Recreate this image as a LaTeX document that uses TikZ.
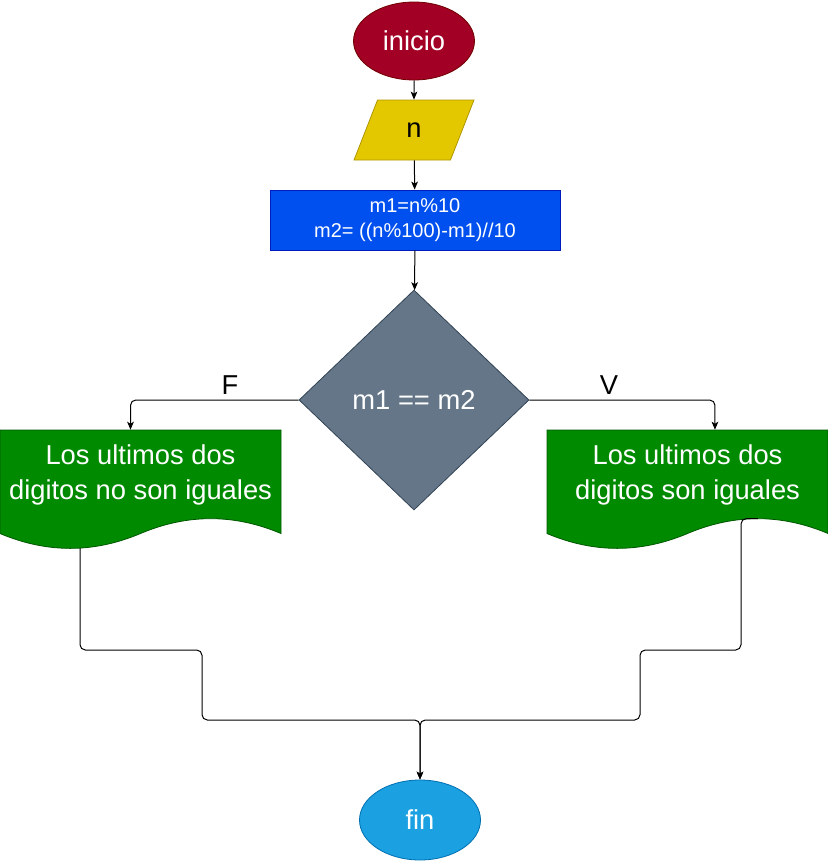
\documentclass[tikz,border=0pt]{standalone}
\usepackage{fontspec}
\setmainfont{Liberation Sans}
\usetikzlibrary{shapes.geometric}
\usetikzlibrary{arrows.meta}
\definecolor{inifill}{HTML}{A20025}
\definecolor{iniline}{HTML}{6F0000}
\definecolor{infill}{HTML}{E3C800}
\definecolor{inline}{HTML}{B09500}
\definecolor{procfill}{HTML}{0050EF}
\definecolor{procline}{HTML}{001DBC}
\definecolor{decfill}{HTML}{647687}
\definecolor{decline}{HTML}{314354}
\definecolor{docfill}{HTML}{008A00}
\definecolor{docline}{HTML}{005700}
\definecolor{finfill}{HTML}{1BA1E2}
\definecolor{finline}{HTML}{006EAF}
% wavy document: left x, top y (px)
\newcommand{\wavedoc}[2]{\filldraw[fill=docfill,draw=docline,line width=0.6pt] (#1,#2) -- ({#1+281},#2) -- ({#1+281},{#2+103.5}) .. controls ({#1+234.17},{#2+83.7}) and ({#1+187.33},{#2+83.7}) .. ({#1+140.5},{#2+103.5}) .. controls ({#1+93.67},{#2+123.3}) and ({#1+46.83},{#2+123.3}) .. (#1,{#2+103.5}) -- cycle;}

\tikzset{
  base/.style={draw, line width=0.6pt, inner sep=0pt, text=white, font=\fontsize{20.5}{24}\selectfont},
  terminal/.style={base, ellipse, minimum width=90.75pt},
  inbox/.style={base, trapezium, trapezium left angle=71.57, trapezium right angle=108.43, trapezium stretches=true, minimum width=90pt, minimum height=45pt, fill=infill, draw=inline, text=black},
  procbox/.style={base, rectangle, minimum width=217.5pt, minimum height=45pt, fill=procfill, draw=procline, align=center, font=\fontsize{15}{18.75}\selectfont},
  decbox/.style={base, diamond, minimum width=172.5pt, minimum height=165pt, fill=decfill, draw=decline},
  docbox/.style={rectangle, inner sep=0pt, minimum width=210.75pt, minimum height=67.5pt, text=white, align=center, font=\fontsize{20.5}{26}\selectfont},
  lbl/.style={inner sep=0pt, font=\fontsize{20.5}{24}\selectfont},
  link/.style={draw, line width=0.75pt, -{Stealth[length=6pt,width=5pt,inset=1.5pt]}}
}

\begin{document}
\begin{tikzpicture}[x=0.75pt,y=-0.75pt]
    \useasboundingbox (0,0) rectangle (828,861);
    \node[terminal, minimum height=58.5pt, fill=inifill, draw=iniline] (inicio) at (414,41) {inicio};
    \node[inbox] (n) at (414,130) {n};
    \node[procbox] (calc) at (415,220) {m1=n\%10\\m2= ((n\%100)-m1)//10};
    \node[decbox] (dec) at (414,400) {m1 == m2};
    %documents
    \wavedoc{0}{430}
    \wavedoc{547}{430}
    \node[docbox] (docF) at (140.5,475) {Los ultimos dos\\digitos no son iguales};
    \node[docbox] (docV) at (687.5,475) {Los ultimos dos\\digitos son iguales};
    \coordinate (outF) at (80,548);
    \coordinate (outV) at (758,518.6);
    \node[terminal, minimum height=60pt, fill=finfill, draw=finline] (fin) at (420,820) {fin};

    \draw[link] (inicio) -- (n);
    \draw[link] (n) -- (calc);
    \draw[link] (calc) -- (dec);
    \draw[link, rounded corners=4pt] (dec.west) -| ([xshift=-7.5pt]docF.north);
    \draw[link, rounded corners=4pt] (dec.east) -| ([xshift=20.6pt]docV.north);
    \node[lbl] (lblF) at (230,385) {F};
    \node[lbl] (lblV) at (609,385) {V};
    %merge
    \draw[link, rounded corners=4pt] (outF) -- (80,650) -- (202,650) -- (202,720) -- (420,720) -- (fin.north);
    \draw[link, rounded corners=4pt] (outV) -- (741,518.6) -- (741,650) -- (640,650) -- (640,720) -- (420,720) -- (fin.north);
\end{tikzpicture}
\end{document}
